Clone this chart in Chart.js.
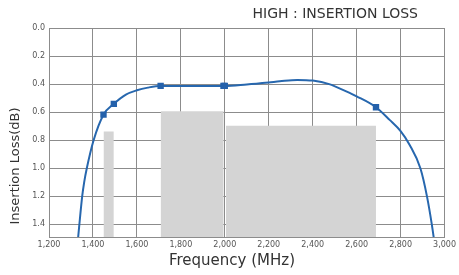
<!DOCTYPE html>
<html>
<head>
<meta charset="utf-8">
<script src="https://cdn.jsdelivr.net/npm/chart.js@4"></script>
<style>
  html, body { margin: 0; padding: 0; background: #fff; }
  #wrap { width: 459px; height: 275px; }
</style>
</head>
<body>
<div id="wrap"><canvas id="myChart" width="459" height="275"></canvas></div>
<script>
// curve (MHz, dB)
const curveFreq = [1325, 1337, 1351, 1360, 1372, 1403, 1448, 1495, 1550, 1600, 1650, 1708,
  1800, 1900, 1997, 2100, 2200, 2250, 2330, 2400, 2475, 2550, 2600, 2688, 2750, 2800, 2840, 2890, 2920, 2942, 2962];
const curveLoss = [1.62, 1.42, 1.2, 1.1, 1.0, 0.8, 0.618, 0.541, 0.475, 0.444, 0.425, 0.413,
  0.413, 0.413, 0.413, 0.402, 0.388, 0.38, 0.37, 0.375, 0.4, 0.45, 0.487, 0.565, 0.655, 0.735, 0.83, 1.0, 1.2, 1.4, 1.62];

// square markers
const markFreq = [1448, 1495, 1708, 1994, 2000, 2688];
const markLoss = [0.618, 0.541, 0.413, 0.413, 0.413, 0.565];

// grey bands: start, end, top loss
const bandStart = [1448, 1708, 2005];
const bandEnd = [1495, 1995, 2688];
const bandTop = [0.737, 0.594, 0.696];

const xMin = 1200, xMax = 3000, xStep = 200;
const yMin = 0, yMax = 1.49, yStep = 0.2;

const titleText = 'HIGH : INSERTION LOSS';
const xTitle = 'Frequency (MHz)';
const yTitle = 'Insertion Loss(dB)';

let datasets = [];

datasets.push({
  label: 'markers',
  data: markFreq.map((f, i) => ({ x: f, y: markLoss[i] })),
  showLine: false,
  pointStyle: 'rect',
  pointRadius: 4.5,
  pointBackgroundColor: '#2461ab',
  pointBorderColor: '#2461ab',
  pointBorderWidth: 0,
  order: 0
});

datasets.push({
  label: 'curve',
  data: curveFreq.map((f, i) => ({ x: f, y: curveLoss[i] })),
  borderColor: '#2767ae',
  borderWidth: 2,
  pointRadius: 0,
  cubicInterpolationMode: 'monotone',
  fill: false,
  order: 1
});

for (let i = 0; i < bandStart.length; i++) {
  datasets.push({
    label: 'band' + i,
    data: [{ x: bandStart[i], y: bandTop[i] }, { x: bandEnd[i], y: bandTop[i] }],
    borderWidth: 0,
    borderColor: 'rgba(0,0,0,0)',
    pointRadius: 0,
    backgroundColor: '#d4d4d4',
    fill: { value: yMax },
    order: 2
  });
}

// titles drawn where the reference has them
const titles = {
  id: 'titles',
  afterDraw(chart) {
    const c = chart.ctx;
    c.save();
    c.fillStyle = '#333';
    c.textBaseline = 'middle';
    c.font = '14px "DejaVu Sans"';
    c.textAlign = 'right';
    c.fillText(titleText, 418, 14);
    c.font = '15px "DejaVu Sans"';
    c.textAlign = 'center';
    c.fillText(xTitle, 232, 261);
    c.translate(16, 166);
    c.rotate(-Math.PI / 2);
    c.font = '13px "DejaVu Sans"';
    c.fillText(yTitle, 0, 0);
    c.restore();
  }
};

const ctx = document.getElementById('myChart').getContext('2d');
const chart = new Chart(ctx, {
  type: 'line',
  data: { datasets: datasets },
  plugins: [titles],
  options: {
    responsive: false,
    animation: false,
    layout: { padding: { top: 28, right: 13, left: 0, bottom: 0 } },
    plugins: { legend: { display: false }, tooltip: { enabled: false } },
    scales: {
      x: {
        type: 'linear',
        min: xMin, max: xMax,
        afterFit: s => { s.height = 38; },
        grid: { color: '#8c8c8c', drawTicks: false },
        border: { color: '#8c8c8c' },
        ticks: {
          stepSize: xStep,
          padding: 3,
          color: '#555',
          font: { family: 'DejaVu Sans', size: 8 },
          maxRotation: 0,
          callback: v => v.toLocaleString('en-US')
        }
      },
      y: {
        type: 'linear',
        reverse: true,
        min: yMin, max: yMax,
        afterFit: s => { s.width = 49; },
        grid: { color: '#8c8c8c', drawTicks: false },
        border: { color: '#8c8c8c' },
        ticks: {
          stepSize: yStep,
          padding: 4,
          color: '#555',
          font: { family: 'DejaVu Sans', size: 8 },
          callback: v => (Math.abs(v / yStep - Math.round(v / yStep)) < 1e-6 ? v.toFixed(1) : '')
        }
      }
    }
  }
});
</script>
</body>
</html>
